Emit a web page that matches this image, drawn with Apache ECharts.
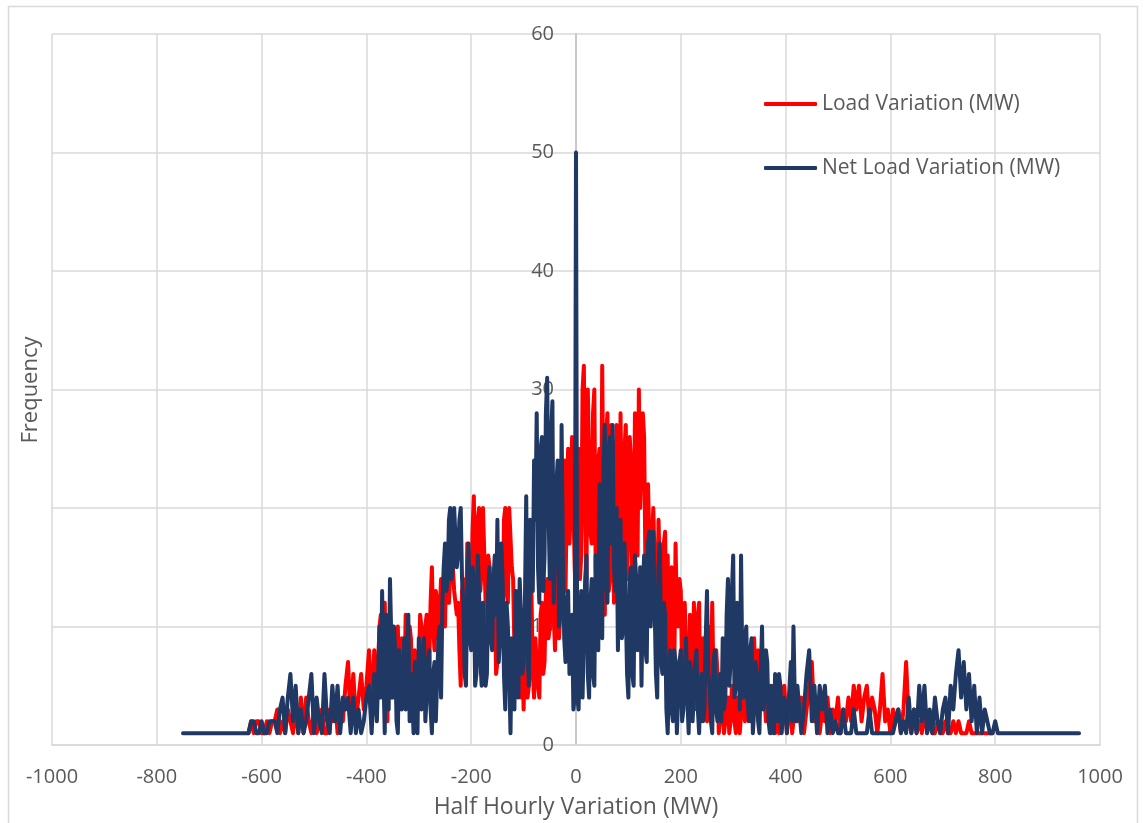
<!DOCTYPE html>
<html><head><meta charset="utf-8">
<script src="https://cdn.jsdelivr.net/npm/echarts@6.0.0/dist/echarts.min.js"></script>
<style>html,body{margin:0;padding:0;background:#fff}#c{width:1144px;height:823px}</style>
</head><body><div id="c"></div>
<script>
// Half hourly variation bins (MW)
const bins = [
-750,-745,-740,-735,-730,-725,-720,-715,-710,-705,
-700,-695,-690,-685,-680,-675,-670,-665,-660,-655,
-650,-645,-640,-635,-630,
-625,-620,-615,-610,-605,-600,-595,-590,-585,-580,
-575,-570,-565,-560,-555,-550,-545,-540,-535,-530,
-525,-520,-515,-510,-505,-500,-495,-490,-485,-480,
-475,-470,-465,-460,-455,-450,-445,-440,-435,-430,
-425,-420,-415,-410,-405,-400,-395,-390,-385,-380,
-375,-372.5,-370,-367.5,-365,-362.5,-360,-357.5,-355,-352.5,-350,-347.5,-345,-342.5,-340,-337.5,-335,-332.5,-330,-327.5,
-325,-322.5,-320,-317.5,-315,-312.5,-310,-307.5,-305,-302.5,-300,-297.5,-295,-292.5,-290,-287.5,-285,-282.5,-280,-277.5,
-275,-272.5,-270,-267.5,-265,-262.5,-260,-257.5,-255,-252.5,-250,-247.5,-245,-242.5,-240,-237.5,-235,-232.5,-230,-227.5,
-225,-222.5,-220,-217.5,-215,-212.5,-210,-207.5,-205,-202.5,-200,-197.5,-195,-192.5,-190,-187.5,-185,-182.5,-180,-177.5,
-175,-172.5,-170,-167.5,-165,-162.5,-160,-157.5,-155,-152.5,-150,-147.5,-145,-142.5,-140,-137.5,-135,-132.5,-130,-127.5,
-125,-122.5,-120,-117.5,-115,-112.5,-110,-107.5,-105,-102.5,-100,-97.5,-95,-92.5,-90,-87.5,-85,-82.5,-80,-77.5,
-75,-72.5,-70,-67.5,-65,-62.5,-60,-57.5,-55,-52.5,-50,-47.5,-45,-42.5,-40,-37.5,-35,-32.5,-30,-27.5,
-25,-22.5,-20,-17.5,-15,-12.5,-10,-7.5,-5,-2.5,0,2.5,5,7.5,10,12.5,15,17.5,20,22.5,
25,27.5,30,32.5,35,37.5,40,42.5,45,47.5,50,52.5,55,57.5,60,62.5,65,67.5,70,72.5,
75,77.5,80,82.5,85,87.5,90,92.5,95,97.5,100,102.5,105,107.5,110,112.5,115,117.5,120,122.5,
125,127.5,130,132.5,135,137.5,140,142.5,145,147.5,150,152.5,155,157.5,160,162.5,165,167.5,170,172.5,
175,177.5,180,182.5,185,187.5,190,192.5,195,197.5,200,202.5,205,207.5,210,212.5,215,217.5,220,222.5,
225,227.5,230,232.5,235,237.5,240,242.5,245,247.5,250,252.5,255,257.5,260,262.5,265,267.5,270,272.5,
275,277.5,280,282.5,285,287.5,290,292.5,295,297.5,300,302.5,305,307.5,310,312.5,315,317.5,320,322.5,
325,327.5,330,332.5,335,337.5,340,342.5,345,347.5,350,352.5,355,357.5,360,362.5,365,367.5,370,372.5,
375,377.5,380,382.5,385,387.5,390,392.5,395,397.5,400,402.5,405,407.5,410,412.5,415,417.5,420,422.5,
425,430,435,440,445,450,455,460,465,470,
475,480,485,490,495,500,505,510,515,520,
525,530,535,540,545,550,555,560,565,570,
575,580,585,590,595,600,605,610,615,620,
625,630,635,640,645,650,655,660,665,670,
675,680,685,690,695,700,705,710,715,720,
725,730,735,740,745,750,755,760,765,770,
775,780,785,790,795,800,
805,810,815,820,825,830,835,840,845,850,
855,860,865,870,875,880,885,890,895,900,
905,910,915,920,925,930,935,940,945,950,
955,960
];

// Frequency of Load Variation (MW)
const loadFreq = [
null,null,null,null,null,null,null,null,null,null,
null,null,null,null,null,null,null,null,null,null,
null,null,null,null,null,
1,2,1,2,2,1,1,2,1,2,
2,3,1,2,1,3,2,1,3,1,
4,1,4,2,1,3,1,2,3,1,
1,3,2,4,1,3,2,5,7,2,
6,2,4,6,3,5,8,3,8,4,
10,11,6,10,12,5,2,8,9,4,10,6,5,9,10,3,4,9,8,5,
11,6,5,10,9,4,3,8,8,5,6,11,10,4,5,10,11,6,7,12,
15,10,8,13,12,9,9,14,14,11,10,16,16,12,12,17,17,13,13,11,
12,8,5,13,14,10,9,17,16,11,12,18,21,14,10,19,20,13,15,20,
20,12,8,16,15,10,11,14,13,6,7,15,16,10,9,19,20,13,12,20,
20,15,14,8,9,12,13,6,4,10,3,8,11,4,5,12,13,6,4,9,
9,5,4,11,12,6,7,13,14,9,10,17,19,11,8,16,15,9,11,20,
18,24,13,21,25,17,20,26,26,15,12,22,25,14,16,30,32,20,14,30,
30,18,17,28,30,15,13,24,25,14,32,20,11,26,28,13,14,27,25,12,
16,27,22,14,28,18,13,25,27,14,18,26,24,13,15,28,22,16,30,20,
20,28,26,15,14,22,22,12,17,20,20,11,12,19,19,10,13,17,18,9,
16,7,9,15,14,6,17,11,10,14,13,6,8,12,12,4,5,11,10,3,
12,5,3,11,12,2,4,9,8,3,2,10,10,4,12,5,3,8,6,1,
2,4,5,1,1,3,4,1,2,5,5,2,1,4,3,1,1,4,5,2,
3,7,6,2,2,8,9,4,5,8,7,3,3,6,6,2,2,5,5,1,
3,5,1,3,4,1,5,2,2,5,5,1,1,4,3,1,1,3,4,2,
2,4,1,3,5,7,2,4,1,3,
2,4,1,3,2,4,1,3,2,4,
2,5,3,5,2,4,5,2,4,3,
1,3,6,2,3,1,3,2,3,1,
3,7,2,1,3,1,2,1,3,1,
2,1,1,2,1,1,2,1,1,2,
1,2,1,1,1,2,1,1,1,1,
1,1,1,1,1,null,
null,null,null,null,null,null,null,null,null,null,
null,null,null,null,null,null,null,null,null,null,
null,null,null,null,null,null,null,null,null,null,
null,null
];

// Frequency of Net Load Variation (MW)
const netLoadFreq = [
1,1,1,1,1,1,1,1,1,1,
1,1,1,1,1,1,1,1,1,1,
1,1,1,1,1,
1,2,2,1,1,2,1,1,2,2,
2,1,3,4,1,4,6,2,5,1,
3,1,2,4,6,1,4,2,1,6,
2,1,5,2,5,1,4,3,4,1,
4,1,3,1,2,4,5,1,6,2,
10,4,13,6,1,11,9,3,14,9,4,10,8,2,1,8,7,3,6,9,
3,8,11,2,6,4,1,7,5,1,9,4,3,8,9,2,4,7,8,3,
1,6,7,2,2,9,10,4,12,15,17,13,14,19,20,14,15,20,20,15,
16,19,20,14,12,6,5,13,17,9,8,15,14,5,6,16,13,7,5,12,
12,5,6,13,15,9,8,14,16,11,19,7,9,17,14,6,3,12,10,6,
1,9,8,3,13,10,4,14,11,6,7,12,21,8,5,19,17,13,24,19,
28,15,12,25,26,13,16,28,31,20,14,26,29,12,18,22,24,10,11,27,
16,9,7,12,13,6,6,11,3,4,50,4,3,10,13,4,4,14,16,6,
4,12,14,6,5,16,15,8,22,18,9,24,27,14,12,25,26,17,27,15,
13,20,8,16,19,9,10,17,17,6,4,14,15,6,5,16,14,8,9,15,
5,13,16,8,7,17,18,10,13,18,18,6,4,15,17,7,6,12,11,3,
1,6,8,3,2,8,7,1,1,7,8,2,3,6,9,4,1,7,6,2,
2,7,8,3,1,5,6,2,3,9,13,6,5,2,1,7,8,3,2,5,
6,2,9,3,4,11,14,5,7,13,16,4,5,12,10,3,16,6,4,9,
10,4,2,8,9,1,3,7,6,2,1,6,10,3,4,8,7,2,1,5,
4,1,6,3,2,6,5,1,1,4,3,1,1,5,7,2,10,4,2,5,
5,1,3,6,8,2,5,1,5,3,
5,1,3,1,2,1,1,3,1,1,
1,3,1,1,1,1,1,3,1,1,
1,1,1,1,1,1,1,2,3,1,
2,1,4,1,3,1,5,2,5,1,
3,1,4,2,1,3,4,1,5,3,
6,8,4,7,3,6,2,5,1,4,
1,3,2,1,1,2,
1,1,1,1,1,1,1,1,1,1,
1,1,1,1,1,1,1,1,1,1,
1,1,1,1,1,1,1,1,1,1,
1,1
];

const seriesNames = ['Load Variation (MW)', 'Net Load Variation (MW)'];
const xTitle = 'Half Hourly Variation (MW)';
const yTitle = 'Frequency';

const FONT = '"Open Sans", "Liberation Sans", sans-serif';
const TXT = '#595959';
const GRID = '#d9d9d9';

const chart = echarts.init(document.getElementById('c'), null, {renderer: 'canvas'});
chart.setOption({
  animation: false,
  backgroundColor: '#fff',
  textStyle: {fontFamily: FONT},
  grid: {left: 52, right: 44, top: 34, bottom: 78, containLabel: false, outerBoundsMode: 'none'},
  legend: {
    orient: 'vertical', left: 759, top: 86, itemGap: 38,
    itemWidth: 53, itemHeight: 4, icon: 'roundRect',
    textStyle: {fontFamily: FONT, fontSize: 21, color: TXT, lineHeight: 26},
    data: seriesNames
  },
  xAxis: {
    type: 'value', min: -1000, max: 1000, interval: 200,
    axisLine: {show: true, onZero: false, lineStyle: {color: GRID, width: 1.5}},
    axisTick: {show: false},
    splitLine: {show: true, lineStyle: {color: GRID, width: 1.5}},
    axisLabel: {fontSize: 20, color: TXT, margin: 22, fontFamily: FONT,
                formatter: v => String(v)},
    name: xTitle, nameLocation: 'middle', nameGap: 51,
    nameTextStyle: {fontSize: 23, color: TXT, fontFamily: FONT}
  },
  yAxis: {
    type: 'value', min: 0, max: 60, interval: 10, position: 'left', offset: -524,
    axisLine: {show: true, onZero: false, lineStyle: {color: '#bfbfbf', width: 1.5}},
    axisTick: {show: false},
    splitLine: {show: true, lineStyle: {color: GRID, width: 1.5}},
    axisLabel: {fontSize: 20, color: TXT, margin: 22, fontFamily: FONT}
  },
  graphic: [
    {type: 'rect', silent: true, z: -1,
     shape: {x: 8.5, y: 6.5, width: 1129, height: 830},
     style: {fill: 'none', stroke: GRID, lineWidth: 1.5}},
    {type: 'text', x: 20, y: 390, rotation: Math.PI / 2,
     style: {text: yTitle, fontSize: 22, fill: TXT, fontFamily: FONT, align: 'center', verticalAlign: 'top'}}
  ],
  series: [
    {name: seriesNames[0], type: 'line', showSymbol: false, symbol: 'none',
     connectNulls: false, z: 3,
     lineStyle: {color: '#ff0000', width: 4, join: 'round', cap: 'round'}, itemStyle: {color: '#ff0000'},
     data: bins.map((x, i) => [x, loadFreq[i]])},
    {name: seriesNames[1], type: 'line', showSymbol: false, symbol: 'none', z: 4,
     lineStyle: {color: '#203864', width: 4, join: 'round', cap: 'round'}, itemStyle: {color: '#203864'},
     data: bins.map((x, i) => [x, netLoadFreq[i]])}
  ]
});
</script>
</body></html>
